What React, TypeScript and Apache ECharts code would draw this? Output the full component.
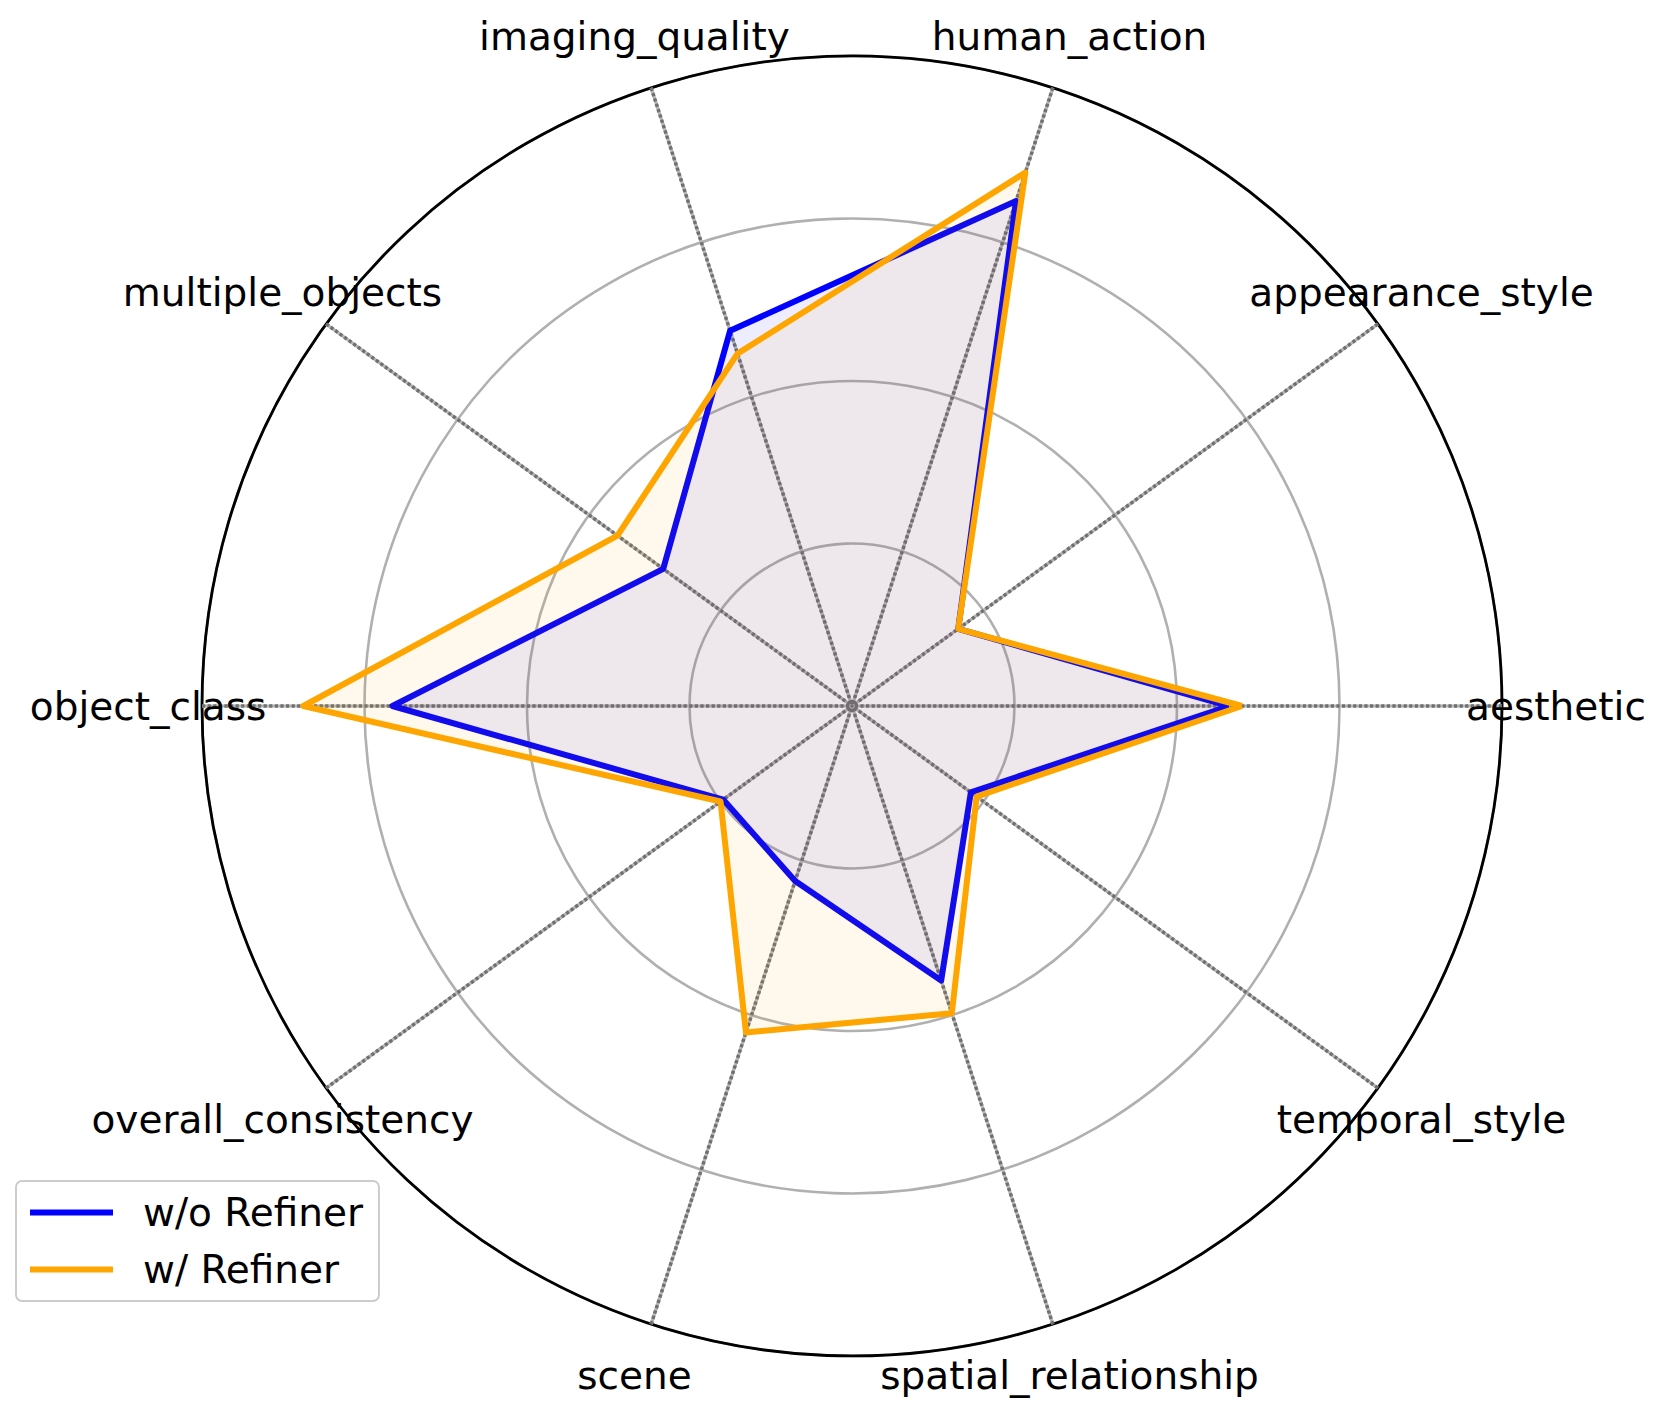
import React, { useEffect, useRef } from "react";
import * as echarts from "echarts";

const categories = [
  "aesthetic",
  "appearance_style",
  "human_action",
  "imaging_quality",
  "multiple_objects",
  "object_class",
  "overall_consistency",
  "scene",
  "spatial_relationship",
  "temporal_style",
];
const seriesNames = ["w/o Refiner", "w/ Refiner"];
const withoutRefiner = [0.58, 0.202, 0.817, 0.607, 0.359, 0.707, 0.245, 0.283, 0.444, 0.226];
const withRefiner = [0.6, 0.202, 0.863, 0.57, 0.446, 0.844, 0.25, 0.528, 0.497, 0.237];
const radarMax = 1;

const W = 1660;
const H = 1412;
const CX = 852;
const CY = 706;
const R = 650;
const LABEL_R = R * 1.083;
const FONT = "DejaVu Sans";

export default function App() {
  const ref = useRef<HTMLDivElement>(null);
  useEffect(() => {
    if (!ref.current) return;
    const chart = echarts.init(ref.current, null, { renderer: "svg" });
    const n = categories.length;
    const labels = categories.map((c, i) => {
      const a = (i * 2 * Math.PI) / n;
      return {
        type: "text",
        x: CX + LABEL_R * Math.cos(a),
        y: CY - LABEL_R * Math.sin(a),
        z: 10,
        style: {
          text: c,
          fontFamily: FONT,
          fontSize: 39,
          fill: "#000",
          textAlign: "center",
          textVerticalAlign: "middle",
        },
      };
    });
    const indicator = categories.map((c) => ({ name: c, max: radarMax, min: 0 }));
    chart.setOption({
      animation: false,
      backgroundColor: "#fff",
      polar: [
        { center: [CX, CY], radius: R },
        { center: [CX, CY], radius: R },
      ],
      angleAxis: [
        {
          polarIndex: 0,
          type: "category",
          data: categories,
          startAngle: 0,
          clockwise: false,
          boundaryGap: false,
          axisLine: { show: false },
          axisTick: { show: false },
          axisLabel: { show: false },
          splitLine: { show: true, lineStyle: { color: "#b4b4b4", width: 3.2 } },
          z: 1,
        },
        {
          polarIndex: 1,
          type: "category",
          data: categories,
          startAngle: 0,
          clockwise: false,
          boundaryGap: false,
          axisLine: { show: false },
          axisTick: { show: false },
          axisLabel: { show: false },
          splitLine: { show: true, lineStyle: { color: "#707070", width: 3.5, type: [3.2, 2.4] } },
          z: 1,
        },
      ],
      radiusAxis: [0, 1].map((i) => ({
        polarIndex: i,
        min: 0,
        max: radarMax,
        axisLine: { show: false },
        axisTick: { show: false },
        axisLabel: { show: false },
        splitLine: { show: false },
      })),
      radar: [
        {
          center: [CX, CY],
          radius: R,
          startAngle: 0,
          shape: "circle",
          splitNumber: 4,
          indicator,
          axisName: { show: false },
          axisLine: { show: false },
          splitLine: { lineStyle: { color: "#b0b0b0", width: 2.6 } },
          splitArea: { show: false },
          axisTick: { show: false },
          axisLabel: { show: false },
        },
        {
          center: [CX, CY],
          radius: R,
          startAngle: 0,
          shape: "circle",
          splitNumber: 1,
          indicator,
          axisName: { show: false },
          axisLine: { show: false },
          splitLine: { lineStyle: { color: "#000", width: 2.8 } },
          splitArea: { show: false },
          axisTick: { show: false },
          axisLabel: { show: false },
        },
      ],
      legend: {
        orient: "vertical",
        left: 16,
        top: 1181,
        data: seriesNames,
        icon: "rect",
        itemWidth: 83,
        itemHeight: 6,
        itemGap: 18,
        padding: [12, 16, 12, 14],
        backgroundColor: "rgba(255,255,255,0.8)",
        borderColor: "#cccccc",
        borderWidth: 2,
        borderRadius: 6,
        textStyle: {
          fontFamily: FONT,
          fontSize: 39,
          lineHeight: 39,
          color: "#000",
          padding: [0, 0, 0, 25],
        },
      },
      series: [
        {
          type: "radar",
          radarIndex: 0,
          name: seriesNames[0],
          symbol: "none",
          z: 3,
          itemStyle: { color: "#0000ff" },
          lineStyle: { color: "#0000ff", width: 6 },
          areaStyle: { color: "rgba(0,0,255,0.1)" },
          data: [{ value: withoutRefiner, name: seriesNames[0] }],
        },
        {
          type: "radar",
          radarIndex: 0,
          name: seriesNames[1],
          symbol: "none",
          z: 4,
          itemStyle: { color: "#ffa500" },
          lineStyle: { color: "#ffa500", width: 6 },
          areaStyle: { color: "rgba(255,165,0,0.1)" },
          data: [{ value: withRefiner, name: seriesNames[1] }],
        },
      ],
      graphic: labels,
    });
    return () => chart.dispose();
  }, []);
  return (
    <div
      ref={ref}
      style={{ position: "absolute", left: 0, top: 0, width: W, height: H, background: "#fff" }}
    />
  );
}
